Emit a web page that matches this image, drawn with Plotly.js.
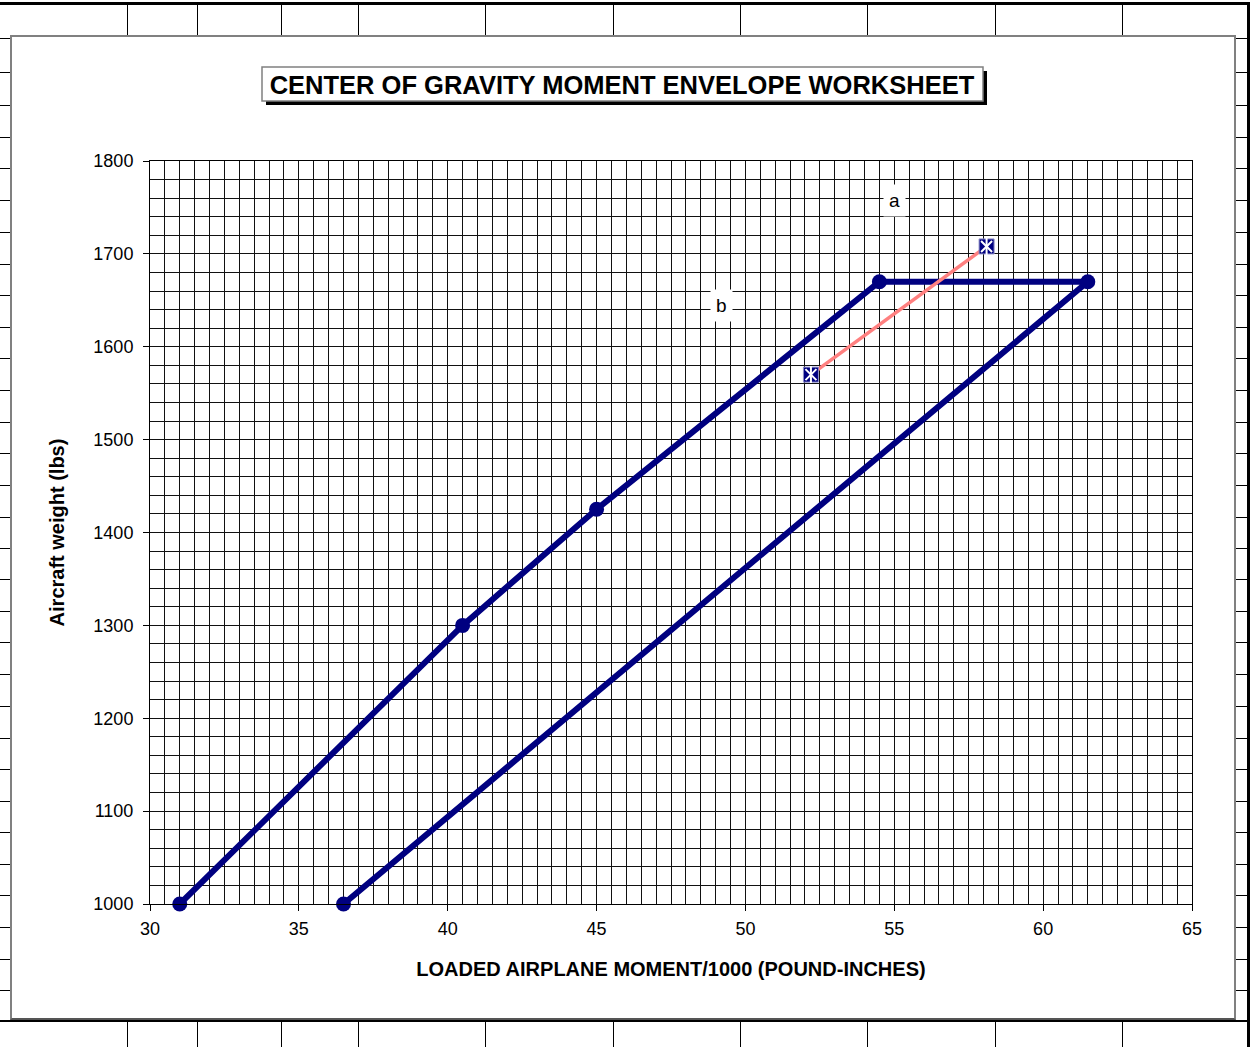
<!DOCTYPE html>
<html>
<head>
<meta charset="utf-8">
<script src="https://cdn.plot.ly/plotly-3.0.1.min.js"></script>
<style>
  html, body { margin: 0; padding: 0; background: #fff; width: 1252px; height: 1047px; overflow: hidden; position: relative; }
  .ln { position: absolute; background: #000; }
  #frame { position: absolute; left: 10px; top: 35px; width: 1226px; height: 985px; box-sizing: border-box;
           border: 2px solid #808080; border-bottom-color: #555; background: #fff; }
  #chart { width: 1222px; height: 981px; }
</style>
</head>
<body>
<div id="sheet"></div>
<div id="frame"><div id="chart"></div></div>
<script>
// ---- chart data ----
const envelopeMoment = [31, 40.5, 45, 54.5, 61.5, 36.5];
const envelopeWeight = [1000, 1300, 1425, 1670, 1670, 1000];
const loadMoment = [52.2, 58.1];
const loadWeight = [1570, 1708];
const labelText = ['a', 'b'];
const labelMoment = [55, 49.2];
const labelWeight = [1757, 1644];
const xTickVals = [30, 35, 40, 45, 50, 55, 60, 65];
const yTickVals = [1000, 1100, 1200, 1300, 1400, 1500, 1600, 1700, 1800];

// ---- spreadsheet background decoration ----
const colLines = [127, 197, 281, 358, 485, 613, 740, 867, 995, 1122];
const rowLines = [38, 72, 105, 137, 168, 200, 232, 264, 295, 327, 358, 390, 422, 453, 485, 517, 548, 579, 611, 642, 674, 706, 738, 769, 801, 832, 864, 895, 927, 959, 990];
(function drawSheet() {
  const s = document.getElementById('sheet');
  function line(l, t, w, h) {
    const d = document.createElement('div');
    d.className = 'ln';
    d.style.left = l + 'px'; d.style.top = t + 'px';
    d.style.width = w + 'px'; d.style.height = h + 'px';
    s.appendChild(d);
  }
  line(0, 2, 1250, 3);        // thick top
  line(1247, 2, 3, 1045);     // thick right
  line(0, 1020, 1250, 2);     // bottom row line
  colLines.forEach(x => { line(x, 5, 1, 31); line(x, 1021, 1, 26); });
  rowLines.forEach(y => { line(0, y, 10, 1); line(1236, y, 11, 1); });
})();

// ---- plot ----
const FONT = 'Liberation Sans, Arial, Helvetica, sans-serif';
const NAVY = '#000080';
const GRID = '#111111';

const traces = [
  {
    x: envelopeMoment, y: envelopeWeight, type: 'scatter', mode: 'lines+markers',
    line: { color: NAVY, width: 6 },
    marker: { color: NAVY, size: 15, symbol: 'circle' },
    cliponaxis: false, hoverinfo: 'x+y'
  },
  {
    x: loadMoment, y: loadWeight, type: 'scatter', mode: 'lines',
    line: { color: '#FF8080', width: 3.5 },
    cliponaxis: false, hoverinfo: 'skip'
  },
  {
    x: loadMoment, y: loadWeight, type: 'scatter', mode: 'markers',
    marker: { color: NAVY, size: 15, symbol: 'square', line: { color: '#8f8fc8', width: 1 } },
    cliponaxis: false, hoverinfo: 'x+y'
  },
  {
    x: loadMoment, y: loadWeight, type: 'scatter', mode: 'markers',
    marker: { color: '#ffffff', size: 11, symbol: 'x-thin-open', line: { color: '#ffffff', width: 2 } },
    cliponaxis: false, hoverinfo: 'skip'
  },
  {
    x: loadMoment, y: loadWeight, type: 'scatter', mode: 'markers',
    marker: { color: '#ffffff', size: 12, symbol: 'line-ns-open', line: { color: '#ffffff', width: 2 } },
    cliponaxis: false, hoverinfo: 'skip'
  }
];

// box geometry helpers (page px -> paper coords of plot area 150..1192 x 161..904)
const px = p => (p - 150) / 1042;
const py = p => (904 - p) / 743;

const layout = {
  width: 1222, height: 981,
  margin: { l: 138, r: 42, t: 124, b: 114 },
  paper_bgcolor: '#ffffff', plot_bgcolor: '#ffffff',
  showlegend: false,
  font: { family: FONT, color: '#000', size: 18 },
  title: {
    text: '<b>CENTER OF GRAVITY MOMENT ENVELOPE WORKSHEET</b>',
    font: { family: FONT, size: 25.5, color: '#000' },
    xref: 'container', x: (622 - 12) / 1222, xanchor: 'center',
    yref: 'container', y: 1 - (85 - 37) / 981, yanchor: 'middle'
  },
  xaxis: {
    range: [30, 65], tickmode: 'array', tickvals: xTickVals,
    ticks: 'outside', ticklen: 6, tickcolor: '#000', tickwidth: 1,
    showline: true, mirror: true, linecolor: '#000', linewidth: 1,
    showgrid: true, gridcolor: GRID, gridwidth: 1,
    minor: { dtick: 0.5, showgrid: true, gridcolor: GRID, gridwidth: 1, ticks: '' },
    zeroline: false, tickfont: { size: 18 }, ticklabelstandoff: 2,
    title: { text: '<b>LOADED AIRPLANE MOMENT/1000 (POUND-INCHES)</b>', font: { size: 20 }, standoff: 24 }
  },
  yaxis: {
    range: [1000, 1800], tickmode: 'array', tickvals: yTickVals,
    ticks: 'outside', ticklen: 6, tickcolor: '#000', tickwidth: 1,
    showline: true, mirror: true, linecolor: '#000', linewidth: 1,
    showgrid: true, gridcolor: GRID, gridwidth: 1,
    minor: { dtick: 20, showgrid: true, gridcolor: GRID, gridwidth: 1, ticks: '' },
    zeroline: false, tickfont: { size: 18 }, ticklabelstandoff: 6,
    title: { text: '<b>Aircraft weight (lbs)</b>', font: { size: 20 }, standoff: 23 }
  },
  shapes: [
    { type: 'rect', xref: 'paper', yref: 'paper', layer: 'above',
      x0: px(266), x1: px(987), y0: py(105), y1: py(71),
      fillcolor: '#000', line: { width: 0 } },
    { type: 'rect', xref: 'paper', yref: 'paper', layer: 'above',
      x0: px(262), x1: px(983), y0: py(101), y1: py(67),
      fillcolor: '#fff', line: { color: '#808080', width: 1.5 } }
  ],
  annotations: labelText.map((t, i) => ({
    x: labelMoment[i], y: labelWeight[i], xref: 'x', yref: 'y',
    text: t, showarrow: false, font: { size: 19, color: '#000' },
    bgcolor: '#ffffff', borderpad: 5
  }))
};

Plotly.newPlot('chart', traces, layout, { displayModeBar: false, staticPlot: true });
</script>
</body>
</html>
